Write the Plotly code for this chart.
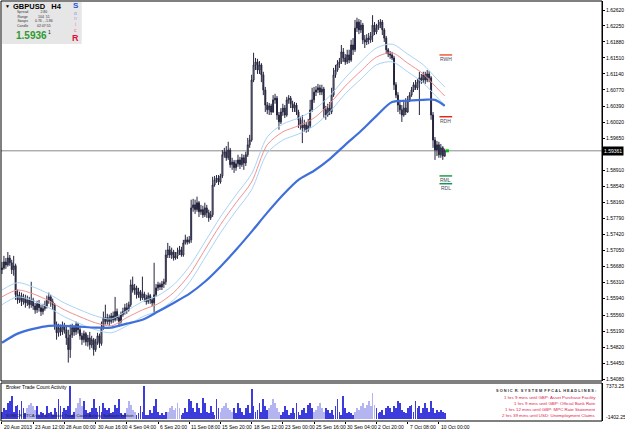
import plotly.graph_objects as go

# ---------------- data ----------------
opens = [1.5661,1.5665,1.5679,1.5672,1.5688,1.5677,1.5661,1.5670,1.5603,1.5591,
 1.5601,1.5587,1.5596,1.5584,1.5591,1.5580,1.5591,1.5577,1.5568,1.5582,
 1.5573,1.5564,1.5571,1.5577,1.5591,1.5598,1.5587,1.5580,1.5534,1.5515,
 1.5527,1.5517,1.5531,1.5522,1.5503,1.5476,1.5510,1.5527,1.5517,1.5534,
 1.5522,1.5508,1.5499,1.5513,1.5494,1.5503,1.5487,1.5499,1.5476,1.5494,
 1.5508,1.5490,1.5527,1.5550,1.5541,1.5550,1.5541,1.5554,1.5545,1.5564,
 1.5550,1.5541,1.5557,1.5564,1.5573,1.5568,1.5580,1.5626,1.5614,1.5619,
 1.5603,1.5610,1.5596,1.5605,1.5596,1.5587,1.5601,1.5591,1.5584,1.5603,
 1.5619,1.5626,1.5621,1.5628,1.5633,1.5695,1.5707,1.5695,1.5702,1.5688,
 1.5693,1.5702,1.5707,1.5695,1.5723,1.5730,1.5725,1.5730,1.5804,1.5811,
 1.5800,1.5816,1.5795,1.5800,1.5788,1.5804,1.5793,1.5781,1.5788,1.5857,
 1.5869,1.5873,1.5864,1.5878,1.5927,1.5934,1.5920,1.5938,1.5904,1.5910,
 1.5897,1.5906,1.5915,1.5904,1.5920,1.5908,1.5927,1.5950,1.5961,1.6100,
 1.6135,1.6142,1.6123,1.6135,1.6112,1.6077,1.6042,1.6031,1.6040,1.6026,
 1.6054,1.6058,1.6019,1.6003,1.6026,1.6035,1.6019,1.6054,1.6058,1.6045,
 1.6035,1.6042,1.6026,1.6008,1.5996,1.5989,1.5996,1.5985,1.5994,1.6031,
 1.6054,1.6072,1.6077,1.6082,1.6072,1.6079,1.6031,1.6019,1.6035,1.6026,
 1.6065,1.6112,1.6123,1.6137,1.6142,1.6165,1.6151,1.6142,1.6158,1.6146,
 1.6181,1.6170,1.6220,1.6234,1.6216,1.6227,1.6193,1.6188,1.6197,1.6193,
 1.6202,1.6227,1.6211,1.6220,1.6227,1.6234,1.6216,1.6197,1.6170,1.6160,
 1.6158,1.6151,1.6089,1.6065,1.6042,1.6031,1.6019,1.6035,1.6026,1.6054,
 1.6065,1.6077,1.6089,1.6082,1.6095,1.6105,1.6100,1.6112,1.6100,1.6114,
 1.6105,1.6019,1.5961,1.5938,1.5950,1.5927,1.5943,1.5924]

highs = [1.5679,1.5693,1.5688,1.5702,1.5695,1.5684,1.5693,1.5675,1.5615,1.5610,
 1.5608,1.5605,1.5603,1.5601,1.5598,1.5633,1.5596,1.5584,1.5589,1.5591,
 1.5580,1.5582,1.5589,1.5601,1.5608,1.5603,1.5594,1.5584,1.5541,1.5536,
 1.5534,1.5541,1.5538,1.5529,1.5522,1.5534,1.5536,1.5531,1.5541,1.5538,
 1.5529,1.5515,1.5520,1.5517,1.5510,1.5517,1.5508,1.5503,1.5501,1.5515,
 1.5513,1.5541,1.5564,1.5580,1.5559,1.5557,1.5561,1.5564,1.5598,1.5571,
 1.5557,1.5564,1.5573,1.5582,1.5584,1.5587,1.5638,1.5645,1.5628,1.5624,
 1.5619,1.5614,1.5645,1.5610,1.5603,1.5608,1.5605,1.5596,1.5677,1.5628,
 1.5633,1.5631,1.5635,1.5640,1.5707,1.5723,1.5716,1.5712,1.5707,1.5702,
 1.5712,1.5716,1.5714,1.5730,1.5742,1.5737,1.5739,1.5823,1.5825,1.5823,
 1.5830,1.5820,1.5811,1.5809,1.5816,1.5811,1.5800,1.5797,1.5876,1.5878,
 1.5880,1.5880,1.5883,1.5938,1.5943,1.5947,1.5957,1.5943,1.5920,1.5915,
 1.5915,1.5927,1.5922,1.5929,1.5927,1.5934,1.5966,1.5973,1.6112,1.6163,
 1.6151,1.6149,1.6144,1.6139,1.6119,1.6084,1.6049,1.6047,1.6045,1.6065,
 1.6068,1.6063,1.6026,1.6035,1.6045,1.6042,1.6061,1.6065,1.6063,1.6052,
 1.6049,1.6047,1.6031,1.6015,1.6019,1.6008,1.6003,1.6010,1.6054,1.6082,
 1.6084,1.6086,1.6091,1.6089,1.6089,1.6084,1.6040,1.6045,1.6049,1.6082,
 1.6128,1.6135,1.6146,1.6151,1.6181,1.6174,1.6160,1.6170,1.6170,1.6193,
 1.6197,1.6239,1.6244,1.6241,1.6239,1.6232,1.6204,1.6206,1.6209,1.6211,
 1.6250,1.6234,1.6230,1.6239,1.6241,1.6239,1.6220,1.6202,1.6174,1.6167,
 1.6165,1.6156,1.6095,1.6072,1.6054,1.6042,1.6054,1.6058,1.6063,1.6072,
 1.6084,1.6095,1.6100,1.6102,1.6119,1.6114,1.6119,1.6119,1.6123,1.6121,
 1.6109,1.6026,1.5968,1.5959,1.5957,1.5952,1.5947,1.5941]

lows = [1.5651,1.5661,1.5663,1.5668,1.5670,1.5651,1.5647,1.5591,1.5582,1.5584,
 1.5577,1.5580,1.5573,1.5577,1.5571,1.5573,1.5568,1.5559,1.5561,1.5564,
 1.5554,1.5557,1.5566,1.5571,1.5582,1.5575,1.5568,1.5522,1.5499,1.5506,
 1.5508,1.5510,1.5513,1.5487,1.5446,1.5457,1.5503,1.5508,1.5510,1.5513,
 1.5499,1.5487,1.5492,1.5485,1.5483,1.5476,1.5480,1.5462,1.5471,1.5487,
 1.5480,1.5485,1.5522,1.5534,1.5534,1.5531,1.5536,1.5538,1.5541,1.5543,
 1.5529,1.5536,1.5552,1.5557,1.5559,1.5564,1.5575,1.5608,1.5603,1.5594,
 1.5596,1.5589,1.5591,1.5587,1.5580,1.5582,1.5582,1.5577,1.5561,1.5598,
 1.5612,1.5614,1.5614,1.5619,1.5626,1.5688,1.5688,1.5686,1.5682,1.5684,
 1.5686,1.5695,1.5691,1.5691,1.5719,1.5719,1.5721,1.5723,1.5795,1.5790,
 1.5795,1.5783,1.5788,1.5781,1.5783,1.5781,1.5772,1.5776,1.5783,1.5853,
 1.5862,1.5857,1.5860,1.5873,1.5920,1.5913,1.5915,1.5897,1.5892,1.5885,
 1.5890,1.5899,1.5894,1.5899,1.5892,1.5901,1.5922,1.5943,1.5957,1.6095,
 1.6123,1.6114,1.6114,1.6095,1.6065,1.6026,1.6021,1.6019,1.6019,1.6024,
 1.6045,1.6008,1.5985,1.5998,1.6017,1.6012,1.6015,1.6045,1.6035,1.6026,
 1.6026,1.6019,1.5989,1.5985,1.5954,1.5980,1.5978,1.5980,1.5989,1.6026,
 1.6047,1.6063,1.6070,1.6065,1.6065,1.6012,1.6008,1.6015,1.6019,1.6021,
 1.6061,1.6105,1.6119,1.6128,1.6137,1.6142,1.6135,1.6137,1.6139,1.6142,
 1.6158,1.6165,1.6211,1.6206,1.6209,1.6183,1.6174,1.6181,1.6183,1.6186,
 1.6188,1.6204,1.6206,1.6216,1.6220,1.6204,1.6188,1.6160,1.6153,1.6149,
 1.6146,1.6077,1.6058,1.6026,1.6021,1.6003,1.6015,1.6019,1.6024,1.6049,
 1.6061,1.6072,1.6077,1.6077,1.6019,1.6091,1.6093,1.6091,1.6095,1.6095,
 1.6008,1.5943,1.5915,1.5924,1.5920,1.5920,1.5915,1.5922]

closes = [1.5665,1.5679,1.5672,1.5688,1.5677,1.5661,1.5670,1.5603,1.5591,1.5601,
 1.5587,1.5596,1.5584,1.5591,1.5580,1.5591,1.5577,1.5568,1.5582,1.5573,
 1.5564,1.5571,1.5577,1.5591,1.5598,1.5587,1.5580,1.5534,1.5515,1.5527,
 1.5517,1.5531,1.5522,1.5503,1.5476,1.5510,1.5527,1.5517,1.5534,1.5522,
 1.5508,1.5499,1.5513,1.5494,1.5503,1.5487,1.5499,1.5476,1.5494,1.5508,
 1.5490,1.5527,1.5550,1.5541,1.5550,1.5541,1.5554,1.5545,1.5564,1.5550,
 1.5541,1.5557,1.5564,1.5573,1.5568,1.5580,1.5626,1.5614,1.5619,1.5603,
 1.5610,1.5596,1.5605,1.5596,1.5587,1.5601,1.5591,1.5584,1.5603,1.5619,
 1.5626,1.5621,1.5628,1.5633,1.5695,1.5707,1.5695,1.5702,1.5688,1.5693,
 1.5702,1.5707,1.5695,1.5723,1.5730,1.5725,1.5730,1.5804,1.5811,1.5800,
 1.5816,1.5795,1.5800,1.5788,1.5804,1.5793,1.5781,1.5788,1.5857,1.5869,
 1.5873,1.5864,1.5878,1.5927,1.5934,1.5920,1.5938,1.5904,1.5910,1.5897,
 1.5906,1.5915,1.5904,1.5920,1.5908,1.5927,1.5950,1.5961,1.6100,1.6135,
 1.6142,1.6123,1.6135,1.6112,1.6077,1.6042,1.6031,1.6040,1.6026,1.6054,
 1.6058,1.6019,1.6003,1.6026,1.6035,1.6019,1.6054,1.6058,1.6045,1.6035,
 1.6042,1.6026,1.6008,1.5996,1.5989,1.5996,1.5985,1.5994,1.6031,1.6054,
 1.6072,1.6077,1.6082,1.6072,1.6079,1.6031,1.6019,1.6035,1.6026,1.6065,
 1.6112,1.6123,1.6137,1.6142,1.6165,1.6151,1.6142,1.6158,1.6146,1.6181,
 1.6170,1.6220,1.6234,1.6216,1.6227,1.6193,1.6188,1.6197,1.6193,1.6202,
 1.6227,1.6211,1.6220,1.6227,1.6234,1.6216,1.6197,1.6170,1.6160,1.6158,
 1.6151,1.6089,1.6065,1.6042,1.6031,1.6019,1.6035,1.6026,1.6054,1.6065,
 1.6077,1.6089,1.6082,1.6095,1.6105,1.6100,1.6112,1.6100,1.6114,1.6105,
 1.6019,1.5961,1.5938,1.5950,1.5927,1.5943,1.5924,1.59361]

# moving averages at sample bars
ma_bars = [0,8,16,24,32,40,48,56,64,72,80,88,96,104,112,120,128,136,144,152,
           160,168,176,184,192,200,208,216,222,227]
ma_slow = [1.5492,1.5513,1.5524,1.5531,1.5531,1.5529,1.5527,1.5527,1.5536,1.5545,
           1.5564,1.5584,1.5605,1.5633,1.5668,1.5707,1.5749,1.5793,1.5834,1.5869,
           1.5890,1.5917,1.5950,1.5982,1.6017,1.6049,1.6052,1.6054,1.6054,1.6040]
dragon_mid = [1.5598,1.5614,1.5605,1.5589,1.5568,1.5552,1.5538,1.5531,1.5550,1.5568,
              1.5582,1.5608,1.5649,1.5707,1.5765,1.5816,1.5864,1.5950,1.5980,1.5994,
              1.6012,1.6045,1.6086,1.6121,1.6153,1.6163,1.6139,1.6114,1.6086,1.6063]
dragon_high = [1.5614,1.5631,1.5621,1.5605,1.5584,1.5568,1.5554,1.5547,1.5566,1.5587,
               1.5601,1.5626,1.5668,1.5725,1.5783,1.5834,1.5883,1.5968,1.5998,1.6012,
               1.6031,1.6063,1.6105,1.6142,1.6174,1.6183,1.6160,1.6135,1.6107,1.6084]
dragon_low = [1.5580,1.5598,1.5589,1.5573,1.5552,1.5536,1.5522,1.5515,1.5531,1.5552,
              1.5566,1.5591,1.5631,1.5688,1.5746,1.5797,1.5846,1.5931,1.5961,1.5975,
              1.5994,1.6026,1.6068,1.6102,1.6135,1.6142,1.6119,1.6093,1.6065,1.6042]

# broker trade count activity histogram
trade_count = [1500,2200,1800,3300,3700,4800,1500,2600,2900,1800,
 3800,2200,1100,2200,2900,3300,2600,1800,2600,700,
 1500,1100,700,2600,1100,1500,700,2200,1500,4100,
 2600,1500,2200,1800,2600,7000,700,1500,2200,3300,
 4400,2600,3700,1800,1100,1500,2200,4100,2200,1500,
 2600,1500,3300,2200,1800,2200,1100,1500,2900,2200,
 4100,1100,700,1100,2200,3700,2900,1800,1500,700,
 1100,2600,1500,7000,700,700,1800,1100,2600,4100,
 1500,700,1100,700,1500,1500,2200,2600,1800,2200,
 3300,2200,700,1100,2200,1500,4100,3700,2200,1500,
 3300,2200,1100,4400,3300,1500,1100,2600,1500,700,
 4100,2200,1500,2200,2600,3300,2200,1800,1500,2200,
 1100,3300,2200,1500,700,2200,2900,1100,6300,2600,
 1500,1800,3300,1500,4100,2600,1800,2200,2900,4100,
 3300,2200,1500,700,1500,2600,1800,700,1100,2200,
 1100,3300,1500,700,1800,2200,1100,2900,3300,2200,
 1500,1800,2600,3300,2200,1500,2200,1800,1100,1800,
 700,2600,4100,1500,700,4800,2200,1100,1500,1100,
 700,1500,2200,1800,2600,3300,2200,2900,3700,2600,
 5500,2900,2200,1100,1500,1800,700,2200,2600,2200,
 1500,2600,2200,3700,3300,1800,1500,1100,2200,2600,
 2900,1500,3700,2200,2600,1100,2200,3300,2200,1500,
 3700,2200,1100,1800,1500,1800,1500,1100]
low_activity_spans = [(13,17),(38,41),(64,68),(85,91),(112,118),(137,142),(160,165),(181,191)]

time_labels = ["20 Aug 2013","23 Aug 12:00","28 Aug 00:00","30 Aug 16:00","4 Sep 04:00",
               "6 Sep 20:00","11 Sep 08:00","15 Sep 20:00","18 Sep 12:00","23 Sep 00:00",
               "25 Sep 16:00","30 Sep 04:00","2 Oct 20:00","7 Oct 08:00","10 Oct 00:00"]
label_every = 16
price_ticks = [1.62620,1.62250,1.61880,1.61510,1.61140,1.60770,1.60390,1.60020,
               1.59650,1.59280,1.58910,1.58540,1.58160,1.57790,1.57420,1.57050,
               1.56680,1.56310,1.55940,1.55560,1.55190,1.54820,1.54450,1.54080]
bid = 1.59361
levels = {"RWH": 1.6158, "RDH": 1.6015, "RML": 1.5878, "RDL": 1.5860}
info_names = ["Spread", "Range", "Swaps", "Candle"]
info_values = ["2.80", "104  51", "0.76 , -1.86", "02:07:55"]
headlines = ["1 hrs 9 mins until GBP: Asset Purchase Facility",
             "1 hrs 9 mins until GBP: Official Bank Rate",
             "1 hrs 12 mins until GBP: MPC Rate Statement",
             "2 hrs 39 mins until USD: Unemployment Claims"]
hist_top, hist_bottom = 7373.25, -1402.25

# ---------------- layout geometry ----------------
W, H = 625, 429
ML, MR, MT, MB = 1, 21, 1, 8
PW, PH = W - ML - MR, H - MT - MB

def px_x(px):
    return (px - ML) / PW

def px_y(py):
    return (MT + PH - py) / PH

n = len(closes)
idx = list(range(n))
bar_px = 1.957
x_lo = -0.5
x_hi = x_lo + PW / bar_px

# price scale calibrated on the axis labels (1.62620 at y=10, 1.54080 at y=379)
ppp = (1.62620 - 1.54080) / (379 - 10)
p_top = 1.62620 + (10 - 1) * ppp
p_bot = 1.54080 - (381 - 379) * ppp

FONT = "Liberation Sans"
fig = go.Figure()

fig.add_trace(go.Candlestick(
    x=idx, open=opens, high=highs, low=lows, close=closes,
    increasing=dict(line=dict(color="#24243e", width=1), fillcolor="#c2c2d2"),
    decreasing=dict(line=dict(color="#24243e", width=1), fillcolor="#24243e"),
    whiskerwidth=0, showlegend=False, hoverinfo="skip", xaxis="x", yaxis="y"))

for series, col, w in [(dragon_high, "#a9d3f5", 1), (dragon_low, "#a9d3f5", 1),
                       (dragon_mid, "#f29090", 1), (ma_slow, "#3f6fda", 2.2)]:
    fig.add_trace(go.Scatter(x=ma_bars, y=series, mode="lines",
                             line=dict(color=col, width=w, shape="spline", smoothing=0.8),
                             showlegend=False, hoverinfo="skip", xaxis="x", yaxis="y"))

fig.add_trace(go.Scatter(x=[n + 0.4], y=[bid], mode="markers",
                         marker=dict(symbol="square", size=3, color="#00c000"),
                         showlegend=False, hoverinfo="skip", xaxis="x", yaxis="y"))

colors = []
for i in idx:
    light = any(a <= i <= b for a, b in low_activity_spans)
    colors.append("#b4b4f0" if light else "#3c3cdc")
fig.add_trace(go.Bar(x=idx, y=trade_count, marker=dict(color=colors, line=dict(width=0)),
                     width=0.42, showlegend=False, hoverinfo="skip", xaxis="x", yaxis="y2"))

shapes = []
shapes.append(dict(type="line", xref="paper", yref="y", x0=0, x1=1, y0=bid, y1=bid,
                   line=dict(color="#8a8a8a", width=1), layer="below"))
shapes.append(dict(type="rect", xref="paper", yref="paper", x0=0, x1=1, y0=px_y(381), y1=1,
                   line=dict(color="#000000", width=1)))
shapes.append(dict(type="rect", xref="paper", yref="paper", x0=0, x1=1, y0=0, y1=px_y(383),
                   line=dict(color="#000000", width=1)))
shapes.append(dict(type="rect", xref="paper", yref="paper", x0=px_x(2), x1=px_x(82),
                   y0=px_y(44), y1=px_y(2), fillcolor="#e6e6e6", line=dict(width=0)))
lvl_cols = {"RWH": "#f05a3c", "RDH": "#e02a20", "RML": "#1f9f45", "RDL": "#16925a"}
for k, v in levels.items():
    shapes.append(dict(type="line", xref="x", yref="y", x0=224.3, x1=230.8, y0=v, y1=v,
                       line=dict(color=lvl_cols[k], width=1.5)))

ann = []
def text(x, y, s, size=5, color="#000000", anchor="left", **kw):
    ann.append(dict(x=px_x(x), y=px_y(y), xref="paper", yref="paper", text=s, showarrow=False,
                    xanchor=anchor, yanchor="middle", font=dict(family=FONT, size=size, color=color), **kw))

# info panel
text(3, 6, "▼", 5)
text(11, 7, "<b>GBPUSD</b>&nbsp;&nbsp;&nbsp;<b>H4</b>", 7.5)
text(15, 18.8, "<br>".join(info_names), 3.5, "#333333")
text(33, 18.8, "<br>".join(info_values), 3.5, "#333333")
text(14, 35.5, "<b>1.5936</b>", 10, "#2f9a2f")
text(46.5, 32.5, "1", 5, "#222222")
for ch, yy, sz, col in [("<b>S</b>", 6, 8, "#2352e0"), ("o", 12.7, 5, "#8c8ce8"),
                        ("n", 18.3, 5, "#b49ad8"), ("i", 24.3, 5, "#e08ab8"),
                        ("c", 30, 5, "#e86f8e"), ("<b>R</b>", 38, 9, "#e0103c")]:
    text(76, yy, ch, sz, col, anchor="center")

for k, v in levels.items():
    ann.append(dict(x=227.6, y=v, xref="x", yref="y", text=k, showarrow=False, yshift=-4,
                    xanchor="center", yanchor="middle", font=dict(family=FONT, size=5, color="#4a4a60")))

# bid price box on the axis (covers the 1.59280 label as in the reference)
ann.append(dict(x=1, y=bid, xref="paper", yref="y", text="1.59361", showarrow=False,
                xanchor="left", yanchor="middle", bgcolor="#000000", borderpad=1,
                font=dict(family=FONT, size=5, color="#ffffff")))

text(606, 386, str(hist_top), 5)
text(606, 417, str(hist_bottom), 5)
text(4, 387, "Broker Trade Count Activity", 5)
text(4, 415.5, "SONICR BTCA v1.0 ID: Broker Trade Count Activity Software Edition", 4.2, "#202020")
text(600, 390, "<b>S O N I C  R.  S Y S T E M  F F C A L  H E A D L I N E S :</b>", 3.9, "#303030", anchor="right")
for j, h in enumerate(headlines):
    text(600, 397.5 + 6 * j, h, 4.4, "#e0184a", anchor="right")

for k, lab in enumerate(time_labels):
    ann.append(dict(x=k * label_every, y=0, xref="x", yref="paper", text=lab, showarrow=False,
                    xanchor="left", yanchor="top", yshift=-1,
                    font=dict(family=FONT, size=5, color="#000000")))

tick_text = ["" if abs(v - 1.59280) < 1e-9 else f"{v:.5f}" for v in price_ticks]

fig.update_layout(
    width=W, height=H, margin=dict(l=ML, r=MR, t=MT, b=MB),
    paper_bgcolor="#ffffff", plot_bgcolor="#ffffff",
    showlegend=False, bargap=0,
    xaxis=dict(domain=[0, 1], range=[x_lo, x_hi], anchor="y2", showgrid=False, zeroline=False,
               tickvals=[k * label_every for k in range(len(time_labels))],
               ticks="outside", ticklen=2, tickcolor="#000000", showticklabels=False,
               rangeslider=dict(visible=False), fixedrange=True),
    yaxis=dict(domain=[px_y(381), 1], range=[p_bot, p_top], side="right", anchor="x",
               tickvals=price_ticks, ticktext=tick_text,
               ticks="outside", ticklen=2, tickcolor="#000000",
               tickfont=dict(family=FONT, size=5, color="#000000"),
               showgrid=False, zeroline=False, showline=True, linecolor="#000000", linewidth=1),
    yaxis2=dict(domain=[0, px_y(383)], range=[-500, 7600], side="right", anchor="x",
                showticklabels=False, ticks="", showgrid=False, zeroline=False,
                showline=True, linecolor="#000000", linewidth=1),
    shapes=shapes, annotations=ann,
)

fig.write_html("out.html")
